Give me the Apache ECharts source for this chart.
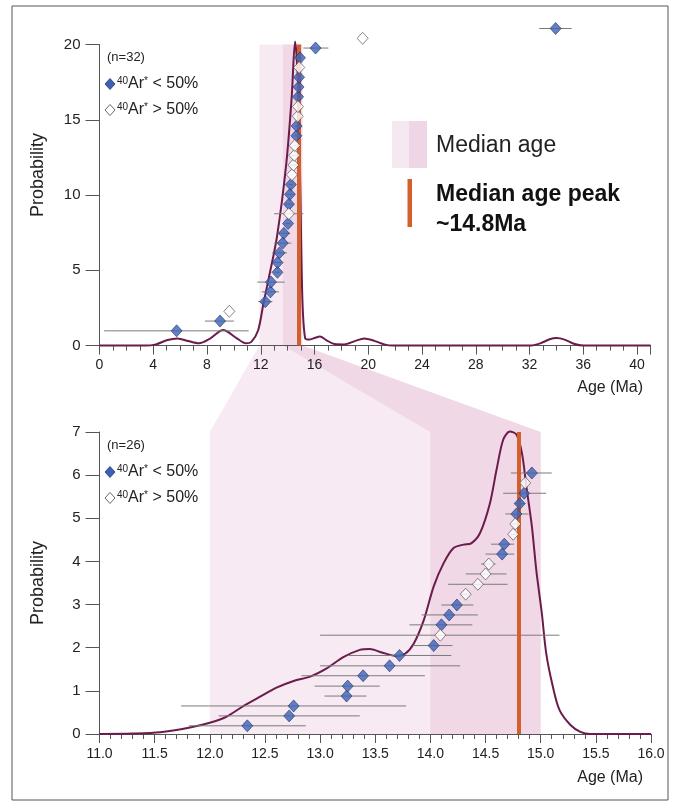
<!DOCTYPE html>
<html>
<head>
<meta charset="utf-8">
<script src="https://cdn.jsdelivr.net/npm/echarts@6/dist/echarts.min.js"></script>
<style>
html, body { margin: 0; padding: 0; background: #fff; }
#chart { width: 675px; height: 801px; }
</style>
</head>
<body>
<div id="chart"></div>
<script>
// ---- top panel: all grains (n=32) ----
var topAge  = [5.74, 8.97, 9.66, 12.34, 12.72, 12.76, 13.24, 13.25, 13.39, 13.63, 13.72, 14.03, 14.09, 14.10, 14.17, 14.24,
               14.32, 14.43, 14.50, 14.53, 14.65, 14.67, 14.75, 14.77, 14.78, 14.81, 14.85, 14.86, 14.92, 16.08, 19.58, 33.94];
var topProb = [0.98, 1.63, 2.28, 2.92, 3.57, 4.22, 4.87, 5.52, 6.16, 6.81, 7.46, 8.11, 8.76, 9.40, 10.05, 10.70,
               11.35, 12.00, 12.64, 13.29, 13.94, 14.59, 15.24, 15.88, 16.53, 17.18, 17.83, 18.48, 19.12, 19.77, 20.42, 21.07];
var topLo   = [0.34, 7.85, 9.66, 11.81, 12.08, 11.74, 13.04, 12.95, 12.83, 13.00, 13.26, 13.84, 13.00, 13.81, 13.92, 14.10,
               14.28, 14.16, 14.32, 14.46, 14.50, 14.55, 14.72, 14.74, 14.68, 14.76, 14.66, 14.82, 14.73, 15.17, 19.58, 32.72];
var topHi   = [11.10, 10.00, 9.66, 12.87, 13.36, 13.78, 13.42, 13.54, 13.95, 14.27, 14.19, 14.20, 15.17, 14.38, 14.43, 14.39,
               14.36, 14.70, 14.69, 14.59, 14.76, 14.76, 14.79, 14.80, 14.89, 14.86, 15.05, 14.90, 15.10, 17.03, 19.58, 35.13];
// 1 = 40Ar* < 50% (filled), 0 = 40Ar* > 50% (open)
var topType = [1, 1, 0, 1, 1, 1, 1, 1, 1, 1, 1, 1, 0, 1, 1, 1,
               0, 0, 0, 0, 1, 1, 0, 0, 1, 1, 1, 0, 1, 1, 0, 1];

var topCurveX = [0, 3.4, 4.2, 5.0, 5.8, 6.6, 7.4, 8.2, 9.2, 10.2, 10.9, 11.3, 11.8, 12.2, 12.6, 13.2, 13.9, 14.3, 14.55,
                 14.8, 14.95, 15.1, 15.3, 15.6, 16.0, 16.4, 16.9, 17.5, 18.2, 19.0, 19.7, 20.5, 21.2, 21.8,
                 32.0, 32.8, 33.5, 34.0, 34.6, 35.3, 36.0, 41];
var topCurveY = [0, 0, 0.08, 0.35, 0.48, 0.3, 0.15, 0.45, 1.03, 0.5, 0.15, 0.25, 1.0, 2.8, 4.5, 7.2, 12.1, 16.5, 20.2,
                 17.0, 10.0, 3.0, 0.5, 0.4, 0.5, 0.6, 0.35, 0.1, 0.08, 0.3, 0.48, 0.3, 0.08, 0,
                 0, 0.15, 0.42, 0.5, 0.4, 0.12, 0, 0];

// ---- bottom panel: zoom 11-16 Ma (n=26) ----
var botAge  = [12.34, 12.72, 12.76, 13.24, 13.25, 13.39, 13.63, 13.72, 14.03, 14.09, 14.10, 14.17, 14.24,
               14.32, 14.43, 14.50, 14.53, 14.65, 14.67, 14.75, 14.77, 14.78, 14.81, 14.85, 14.86, 14.92];
var botProb = [0.19, 0.42, 0.65, 0.88, 1.11, 1.35, 1.58, 1.82, 2.05, 2.29, 2.53, 2.76, 2.99,
               3.24, 3.47, 3.71, 3.94, 4.17, 4.40, 4.63, 4.87, 5.10, 5.34, 5.58, 5.82, 6.05];
var botLo   = [11.81, 12.08, 11.74, 13.04, 12.95, 12.83, 13.00, 13.26, 13.84, 13.00, 13.81, 13.92, 14.10,
               14.28, 14.16, 14.32, 14.46, 14.50, 14.55, 14.72, 14.74, 14.68, 14.76, 14.66, 14.82, 14.73];
var botHi   = [12.87, 13.36, 13.78, 13.42, 13.54, 13.95, 14.27, 14.19, 14.20, 15.17, 14.38, 14.43, 14.39,
               14.36, 14.70, 14.69, 14.59, 14.76, 14.76, 14.79, 14.80, 14.89, 14.86, 15.05, 14.90, 15.10];
var botType = [1, 1, 1, 1, 1, 1, 1, 1, 1, 0, 1, 1, 1,
               0, 0, 0, 0, 1, 1, 0, 0, 1, 1, 1, 0, 1];

var botCurveX = [11.0, 11.3, 11.55, 11.82, 12.0, 12.15, 12.3, 12.46, 12.61, 12.76, 12.91, 13.06, 13.21, 13.36, 13.45,
                 13.56, 13.69, 13.77, 13.85, 13.94, 14.03, 14.12, 14.21, 14.3, 14.37, 14.45, 14.54, 14.6, 14.66,
                 14.72, 14.78, 14.83, 14.87, 14.92, 14.96, 15.01, 15.05, 15.11, 15.17, 15.27, 15.36, 15.45, 16.0];
var botCurveY = [0, 0.01, 0.04, 0.15, 0.26, 0.40, 0.64, 0.87, 1.08, 1.23, 1.33, 1.52, 1.78, 1.95, 1.97,
                 1.89, 1.81, 1.86, 2.10, 2.64, 3.42, 3.96, 4.31, 4.39, 4.42, 4.66, 5.35, 6.13, 6.82,
                 7.01, 6.94, 6.51, 5.74, 4.81, 3.8, 2.8, 1.87, 1.10, 0.56, 0.21, 0.05, 0, 0];

// median age band [left, inner, right] and peak
var topBand = [11.9, 13.65, 15.1];
var botBand = [12.0, 14.0, 15.0];
var peakAge = 14.8;

var FONT = '"Liberation Sans", Arial, sans-serif';
var curveColor = '#6b1c4c';
var peakColor = '#d3602a';

function points (age, prob, type, want) {
  var out = [];
  for (var i = 0; i < age.length; i++) {
    if (type[i] === want) out.push([age[i], prob[i]]);
  }
  return out;
}
function bars (lo, hi, prob) {
  return prob.map(function (p, i) { return [lo[i], hi[i], p]; });
}
function zip (xs, ys) {
  return xs.map(function (x, i) { return [x, ys[i]]; });
}
function renderBar (params, api) {
  var a = api.coord([api.value(0), api.value(2)]);
  var b = api.coord([api.value(1), api.value(2)]);
  return {
    type: 'line',
    shape: { x1: a[0], y1: a[1], x2: b[0], y2: b[1] },
    style: { stroke: '#7b7b7b', lineWidth: 1 }
  };
}

function xAxisCfg (idx, min, max, interval, minorSplit, fmt) {
  return {
    gridIndex: idx, type: 'value', min: min, max: max, interval: interval,
    axisLine: { onZero: false, lineStyle: { color: '#555', width: 1 } },
    axisTick: { length: 9, lineStyle: { color: '#555' } },
    minorTick: { show: true, splitNumber: minorSplit, length: 5, lineStyle: { color: '#555' } },
    splitLine: { show: false },
    axisLabel: { color: '#222', fontSize: 14, fontFamily: FONT, margin: 13, formatter: fmt }
  };
}
function yAxisCfg (idx, max, interval) {
  return {
    gridIndex: idx, type: 'value', min: 0, max: max, interval: interval,
    axisLine: { show: true, lineStyle: { color: '#555', width: 1 } },
    axisTick: { show: true, length: 14, lineStyle: { color: '#555' } },
    splitLine: { show: false },
    axisLabel: { color: '#222', fontSize: 15, fontFamily: FONT, margin: 19 }
  };
}

function scatterSeries (idx, data, filled) {
  return {
    type: 'scatter', xAxisIndex: idx, yAxisIndex: idx, data: data, clip: false,
    symbol: 'diamond', symbolSize: [11, 12], z: 6,
    itemStyle: filled
      ? { color: '#3d62b4', borderColor: '#20356a', borderWidth: 0.8 }
      : { color: '#ffffff', borderColor: '#444', borderWidth: 0.8 }
  };
}

var myChart = echarts.init(document.getElementById('chart'));
myChart.setOption({
  animation: false,
  backgroundColor: '#fff',
  grid: [
    { left: 99.5, top: 44.6, width: 551, height: 301 },
    { left: 99.5, top: 432, width: 551.5, height: 302 }
  ],
  xAxis: [
    xAxisCfg(0, 0, 41, 4, 4, function (v) { return v % 4 === 0 ? v : ''; }),
    xAxisCfg(1, 11, 16, 0.5, 5, function (v) { return v.toFixed(1); })
  ],
  yAxis: [yAxisCfg(0, 20, 5), yAxisCfg(1, 7, 1)],
  series: [
    {
      type: 'line', xAxisIndex: 0, yAxisIndex: 0, data: zip(topCurveX, topCurveY),
      smooth: 0.3, showSymbol: false, clip: false, z: 3,
      lineStyle: { color: curveColor, width: 2 },
      markLine: {
        silent: true, symbol: 'none', label: { show: false },
        lineStyle: { color: peakColor, width: 4, type: 'solid' },
        data: [{ xAxis: peakAge }]
      }
    },
    {
      type: 'line', xAxisIndex: 1, yAxisIndex: 1, data: zip(botCurveX, botCurveY),
      smooth: 0.3, showSymbol: false, clip: false, z: 3,
      lineStyle: { color: curveColor, width: 2 },
      markLine: {
        silent: true, symbol: 'none', label: { show: false },
        lineStyle: { color: peakColor, width: 4, type: 'solid' },
        data: [{ xAxis: peakAge }]
      }
    },
    {
      type: 'custom', xAxisIndex: 0, yAxisIndex: 0, data: bars(topLo, topHi, topProb),
      renderItem: renderBar, clip: false, z: 4, encode: { x: [0, 1], y: 2 }
    },
    {
      type: 'custom', xAxisIndex: 1, yAxisIndex: 1, data: bars(botLo, botHi, botProb),
      renderItem: renderBar, clip: false, z: 4, encode: { x: [0, 1], y: 2 }
    },
    scatterSeries(0, points(topAge, topProb, topType, 1), true),
    scatterSeries(0, points(topAge, topProb, topType, 0), false),
    scatterSeries(1, points(botAge, botProb, botType, 1), true),
    scatterSeries(1, points(botAge, botProb, botType, 0), false)
  ]
});

// pink median band, joined from the top panel down to the zoomed panel
function pt (g, x, y) { return myChart.convertToPixel({ gridIndex: g }, [x, y]); }
function bandShape (tl, bl, br, tr) {
  return [pt(0, tl, 20), pt(0, tl, 0), pt(1, bl, 7), pt(1, bl, 0),
          pt(1, br, 0), pt(1, br, 7), pt(0, tr, 0), pt(0, tr, 20)];
}
var pinkFill = 'rgba(205,130,180,0.17)';
var supRich = { s: { fontSize: 10, fontFamily: FONT, verticalAlign: 'top', fill: '#222' } };

function diamond (cx, cy, fill, stroke) {
  return {
    type: 'polygon', z: 10,
    shape: { points: [[cx, cy - 5.5], [cx + 5, cy], [cx, cy + 5.5], [cx - 5, cy]] },
    style: { fill: fill, stroke: stroke, lineWidth: 0.8 }
  };
}
function txt (x, y, text, size, opts) {
  var s = { text: text, x: x, y: y, fontSize: size, fontFamily: FONT, fill: '#222',
            textAlign: 'left', textVerticalAlign: 'middle' };
  for (var k in (opts || {})) s[k] = opts[k];
  return { type: 'text', z: 10, style: s };
}
function keyBlock (y0, nLabel) {
  return [
    txt(107, y0, nLabel, 13),
    diamond(110, y0 + 27, '#3d62b4', '#20356a'),
    txt(117, y0 + 27, '{s|40}Ar{s|*} < 50%', 16, { rich: supRich }),
    diamond(110, y0 + 53, '#ffffff', '#444'),
    txt(117, y0 + 53, '{s|40}Ar{s|*} > 50%', 16, { rich: supRich })
  ];
}

var graphics = [
  { type: 'polygon', z: -10, silent: true, shape: { points: bandShape(topBand[0], botBand[0], botBand[2], topBand[2]) }, style: { fill: pinkFill } },
  { type: 'polygon', z: -10, silent: true, shape: { points: bandShape(topBand[1], botBand[1], botBand[2], topBand[2]) }, style: { fill: pinkFill } },
  { type: 'rect', z: -10, shape: { x: 12, y: 6, width: 656, height: 794 }, style: { fill: 'none', stroke: '#555', lineWidth: 1 } },
  // right-hand key
  { type: 'rect', z: 10, shape: { x: 392, y: 121, width: 17, height: 47 }, style: { fill: '#f6e8f1' } },
  { type: 'rect', z: 10, shape: { x: 409, y: 121, width: 18, height: 47 }, style: { fill: '#efd6e6' } },
  txt(436, 146, 'Median age', 23),
  { type: 'rect', z: 10, shape: { x: 407.5, y: 179, width: 4.5, height: 48 }, style: { fill: peakColor } },
  txt(436, 195, 'Median age peak', 23, { fontWeight: 'bold', fill: '#111' }),
  txt(436, 225, '~14.8Ma', 23, { fontWeight: 'bold', fill: '#111' }),
  // axis titles
  txt(643, 388, 'Age (Ma)', 16, { textAlign: 'right' }),
  txt(643, 778, 'Age (Ma)', 16, { textAlign: 'right' }),
  { type: 'text', z: 10, x: 38, y: 175, rotation: Math.PI / 2,
    style: { text: 'Probability', fontSize: 18, fontFamily: FONT, fill: '#222', textAlign: 'center', textVerticalAlign: 'middle' } },
  { type: 'text', z: 10, x: 38, y: 583, rotation: Math.PI / 2,
    style: { text: 'Probability', fontSize: 18, fontFamily: FONT, fill: '#222', textAlign: 'center', textVerticalAlign: 'middle' } }
].concat(keyBlock(57, '(n=32)'), keyBlock(445, '(n=26)'));

myChart.setOption({ graphic: graphics });
</script>
</body>
</html>
